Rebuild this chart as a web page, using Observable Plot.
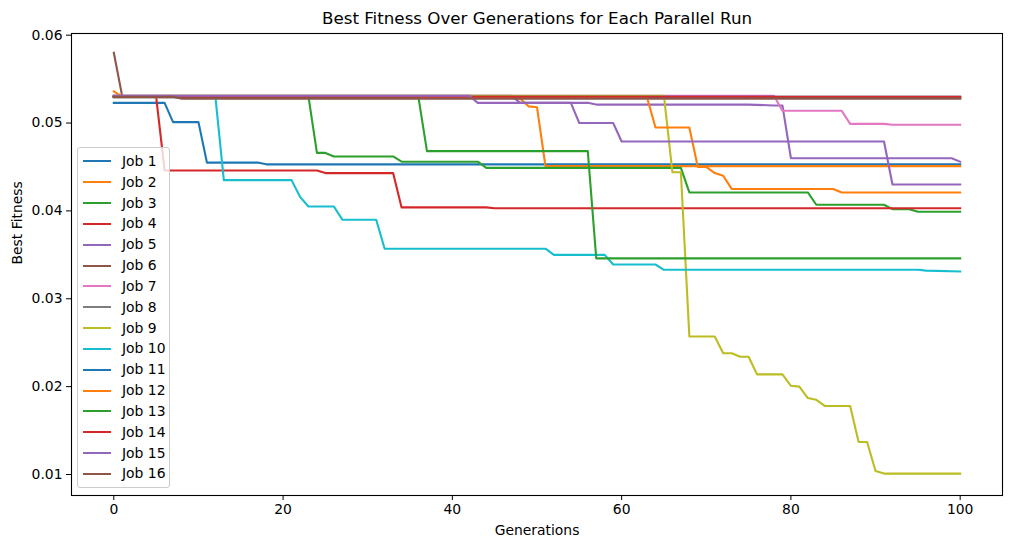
<!DOCTYPE html>
<html><head><meta charset="utf-8">
<script src="https://cdn.jsdelivr.net/npm/d3@7"></script>
<script src="https://cdn.jsdelivr.net/npm/@observablehq/plot@0.6"></script>
<style>
body{margin:0;background:#fff;font-family:"DejaVu Sans",sans-serif;}
#wrap{position:relative;width:1010px;height:547px;overflow:hidden;}
#legend{position:absolute;left:77px;top:147px;width:93px;box-sizing:border-box;border:1px solid #cccccc;border-radius:3px;background:rgba(255,255,255,0.8);padding:3px 0;}
.row{height:20.84px;position:relative;font-size:13.9px;line-height:20.84px;color:#000;}
.sw{position:absolute;left:5px;top:9.4px;width:28px;height:2px;}
.lab{position:absolute;left:44px;top:0;white-space:nowrap;}
</style>
</head><body>
<div id="wrap"><div id="chart"></div><div id="legend"></div></div>
<script>
const titleText = "Best Fitness Over Generations for Each Parallel Run";
const xLabel = "Generations";
const yLabel = "Best Fitness";
const xTicks = [0, 20, 40, 60, 80, 100];
const yTicks = [0.01, 0.02, 0.03, 0.04, 0.05, 0.06];
const jobNames = ["Job 1","Job 2","Job 3","Job 4","Job 5","Job 6","Job 7","Job 8","Job 9","Job 10","Job 11","Job 12","Job 13","Job 14","Job 15","Job 16"];
const palette = ["#1f77b4","#ff7f0e","#2ca02c","#d62728","#9467bd","#8c564b","#e377c2","#7f7f7f","#bcbd22","#17becf","#1f77b4","#ff7f0e","#2ca02c","#d62728","#9467bd","#8c564b"];

const gen1 = [0,6,7,10,11,17,18,100];
const fit1 = [0.0523,0.0523,0.0501,0.0501,0.0455,0.0455,0.0453,0.0453];
const gen2 = [0,1,46,48,49,50,51,100];
const fit2 = [0.0536,0.0530,0.0529,0.0528,0.0519,0.0518,0.0451,0.0451];
const gen3 = [0,23,24,25,26,33,34,43,44,67,68,82,83,91,92,94,95,100];
const fit3 = [0.0530,0.0530,0.0466,0.0466,0.0462,0.0462,0.0456,0.0456,0.0449,0.0449,0.0421,0.0421,0.0407,0.0407,0.0402,0.0402,0.0399,0.0399];
const gen4 = [0,5,6,24,25,33,34,44,45,100];
const fit4 = [0.0530,0.0530,0.0446,0.0446,0.0443,0.0443,0.0404,0.0404,0.0403,0.0403];
const gen5 = [0,47,48,56,57,75,78,79,80,99,100];
const fit5 = [0.0531,0.0531,0.0523,0.0523,0.0521,0.0521,0.0520,0.0520,0.0460,0.0460,0.0456];
const gen6 = [0,1,7,8,100];
const fit6 = [0.0580,0.0530,0.0530,0.0528,0.0528];
const gen7 = [0,78,79,86,87,91,92,100];
const fit7 = [0.0531,0.0531,0.0514,0.0514,0.0499,0.0499,0.0498,0.0498];
const gen8 = [0,100];
const fit8 = [0.0529,0.0529];
const gen9 = [0,65,66,67,68,71,72,73,74,75,76,79,80,81,82,83,84,87,88,89,90,91,100];
const fit9 = [0.0531,0.0531,0.0444,0.0444,0.0257,0.0257,0.0238,0.0238,0.0234,0.0234,0.0214,0.0214,0.0201,0.0200,0.0187,0.0185,0.0178,0.0178,0.0137,0.0137,0.0104,0.0101,0.0101];
const gen10 = [0,12,13,21,22,23,26,27,31,32,51,52,58,59,64,65,95,96,100];
const fit10 = [0.0530,0.0530,0.0435,0.0435,0.0416,0.0405,0.0405,0.0390,0.0390,0.0357,0.0357,0.0350,0.0350,0.0339,0.0339,0.0333,0.0333,0.0332,0.0331];
const gen11 = [0,100];
const fit11 = [0.0530,0.0530];
const gen12 = [0,63,64,68,69,70,71,72,73,85,86,100];
const fit12 = [0.0530,0.0529,0.0495,0.0495,0.0450,0.0450,0.0443,0.0440,0.0425,0.0425,0.0421,0.0421];
const gen13 = [0,36,37,56,57,100];
const fit13 = [0.0530,0.0529,0.0468,0.0468,0.0346,0.0346];
const gen14 = [0,100];
const fit14 = [0.0530,0.0530];
const gen15 = [0,42,43,54,55,59,60,91,92,100];
const fit15 = [0.0531,0.0531,0.0523,0.0523,0.0500,0.0500,0.0479,0.0479,0.0430,0.0430];
const gen16 = [0,7,8,100];
const fit16 = [0.0530,0.0530,0.0528,0.0528];

const gens = [gen1,gen2,gen3,gen4,gen5,gen6,gen7,gen8,gen9,gen10,gen11,gen12,gen13,gen14,gen15,gen16];
const fits = [fit1,fit2,fit3,fit4,fit5,fit6,fit7,fit8,fit9,fit10,fit11,fit12,fit13,fit14,fit15,fit16];

const rows = [];
jobNames.forEach((name, i) => {
  gens[i].forEach((g, k) => rows.push({job: name, gen: g, fit: fits[i][k]}));
});

const plot = Plot.plot({
  width: 1010,
  height: 547,
  marginLeft: 71,
  marginRight: 8,
  marginTop: 33,
  marginBottom: 52,
  style: {fontFamily: "DejaVu Sans, sans-serif", fontSize: "13.9px", color: "#000", background: "#fff"},
  x: {domain: [-5, 105]},
  y: {domain: [0.00761, 0.06019]},
  color: {domain: jobNames, range: palette},
  marks: [
    Plot.line(rows, {x: "gen", y: "fit", z: "job", stroke: "job", strokeWidth: 2.1, strokeLinejoin: "round", strokeLinecap: "square"}),
    Plot.frame({stroke: "#000", strokeWidth: 1.1}),
    Plot.axisX({ticks: xTicks, tickSize: 5, tickPadding: 4, label: null, fontSize: 13.9, stroke: "#000"}),
    Plot.axisY({ticks: yTicks, tickFormat: d3.format(".2f"), tickSize: 5, tickPadding: 4, label: null, fontSize: 13.9, stroke: "#000"}),
    Plot.text([titleText], {text: d => d, frameAnchor: "top", dy: -15, fontSize: 16.7, fill: "#000", lineAnchor: "middle"}),
    Plot.text([xLabel], {text: d => d, frameAnchor: "bottom", dy: 35, fontSize: 13.9, fill: "#000", lineAnchor: "middle"}),
    Plot.text([yLabel], {text: d => d, frameAnchor: "left", dx: -54, rotate: -90, fontSize: 13.9, fill: "#000", lineAnchor: "middle"})
  ]
});
document.getElementById("chart").appendChild(plot);

const legend = document.getElementById("legend");
jobNames.forEach((name, i) => {
  const row = document.createElement("div");
  row.className = "row";
  const sw = document.createElement("span");
  sw.className = "sw";
  sw.style.background = palette[i];
  const lab = document.createElement("span");
  lab.className = "lab";
  lab.textContent = name;
  row.appendChild(sw);
  row.appendChild(lab);
  legend.appendChild(row);
});
</script>
</body></html>
